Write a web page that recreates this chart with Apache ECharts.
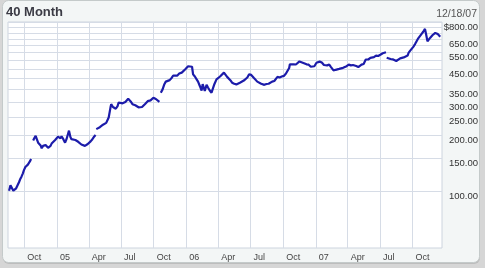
<!DOCTYPE html>
<html>
<head>
<meta charset="utf-8">
<script src="https://cdn.jsdelivr.net/npm/echarts@6/dist/echarts.min.js"></script>
<style>
html,body{margin:0;padding:0;background:#d6d6d6;}
#c{width:485px;height:268px;}
</style>
</head>
<body>
<div id="c"></div>
<script>
const dates = [
'2004-08-19','2004-08-23','2004-08-26','2004-08-31','2004-09-03','2004-09-08','2004-09-13','2004-09-16','2004-09-20','2004-09-23','2004-09-27','2004-09-30',
'2004-10-04','2004-10-07','2004-10-11','2004-10-14','2004-10-18','2004-10-20','2004-10-22','2004-10-26','2004-10-29',
'2004-11-02','2004-11-05','2004-11-09','2004-11-12','2004-11-16','2004-11-19','2004-11-23','2004-11-26','2004-11-30',
'2004-12-03','2004-12-07','2004-12-10','2004-12-14','2004-12-17','2004-12-21','2004-12-27','2004-12-30',
'2005-01-04','2005-01-07','2005-01-11','2005-01-14','2005-01-19','2005-01-24','2005-01-28',
'2005-02-02','2005-02-04','2005-02-08','2005-02-11','2005-02-16','2005-02-22','2005-02-25',
'2005-03-02','2005-03-07','2005-03-11','2005-03-16','2005-03-21','2005-03-24','2005-03-29',
'2005-04-01','2005-04-06','2005-04-11','2005-04-15','2005-04-20','2005-04-21','2005-04-22','2005-04-27',
'2005-05-02','2005-05-06','2005-05-11','2005-05-16','2005-05-20','2005-05-25','2005-05-27',
'2005-06-01','2005-06-03','2005-06-08','2005-06-13','2005-06-16','2005-06-21','2005-06-24','2005-06-29',
'2005-07-05','2005-07-08','2005-07-13','2005-07-18','2005-07-21','2005-07-25','2005-07-28',
'2005-08-02','2005-08-05','2005-08-10','2005-08-15','2005-08-19','2005-08-24','2005-08-29',
'2005-09-01','2005-09-06','2005-09-09','2005-09-14','2005-09-19','2005-09-22','2005-09-27','2005-09-30',
'2005-10-04','2005-10-07','2005-10-12','2005-10-17','2005-10-19','2005-10-21','2005-10-26','2005-10-31',
'2005-11-04','2005-11-09','2005-11-15','2005-11-21','2005-11-25','2005-11-30',
'2005-12-06','2005-12-12','2005-12-19','2005-12-23','2005-12-29',
'2006-01-03','2006-01-06','2006-01-11','2006-01-17','2006-01-20','2006-01-25','2006-01-30',
'2006-02-03','2006-02-08','2006-02-13','2006-02-16','2006-02-22','2006-02-27',
'2006-03-03','2006-03-08','2006-03-13','2006-03-17','2006-03-21','2006-03-27','2006-03-31',
'2006-04-06','2006-04-11','2006-04-17','2006-04-21','2006-04-26',
'2006-05-01','2006-05-05','2006-05-10','2006-05-16','2006-05-22','2006-05-26',
'2006-06-01','2006-06-06','2006-06-12','2006-06-16','2006-06-22','2006-06-27',
'2006-07-03','2006-07-10','2006-07-14','2006-07-20','2006-07-25','2006-07-31',
'2006-08-04','2006-08-09','2006-08-15','2006-08-21','2006-08-25','2006-08-31',
'2006-09-06','2006-09-11','2006-09-15','2006-09-21','2006-09-27',
'2006-10-03','2006-10-09','2006-10-13','2006-10-18','2006-10-20','2006-10-25','2006-10-31',
'2006-11-06','2006-11-10','2006-11-16','2006-11-21','2006-11-27',
'2006-12-01','2006-12-06','2006-12-12','2006-12-18','2006-12-21','2006-12-28',
'2007-01-03','2007-01-08','2007-01-12','2007-01-18','2007-01-24','2007-01-29',
'2007-02-02','2007-02-08','2007-02-13','2007-02-20','2007-02-26',
'2007-03-02','2007-03-08','2007-03-13','2007-03-19','2007-03-23','2007-03-29',
'2007-04-04','2007-04-10','2007-04-16','2007-04-20','2007-04-25',
'2007-05-01','2007-05-04','2007-05-10','2007-05-16','2007-05-22','2007-05-29',
'2007-06-04','2007-06-08','2007-06-14','2007-06-20','2007-06-26',
'2007-07-02','2007-07-09','2007-07-13','2007-07-18','2007-07-19','2007-07-20','2007-07-25','2007-07-31',
'2007-08-06','2007-08-10','2007-08-16','2007-08-21','2007-08-27','2007-08-31',
'2007-09-06','2007-09-11','2007-09-17','2007-09-20','2007-09-25','2007-09-28',
'2007-10-03','2007-10-08','2007-10-12','2007-10-17','2007-10-22','2007-10-26','2007-10-31',
'2007-11-05','2007-11-06','2007-11-08','2007-11-12','2007-11-14','2007-11-16','2007-11-20','2007-11-26','2007-11-30',
'2007-12-04','2007-12-07','2007-12-11','2007-12-14','2007-12-18'
];
const prices = [
101,108,106,101,99,104,106,112,117,120,125,130,
135,137,139,142,146,149,null,187,192,
198,191,182,184,176,170,175,179,177,
176,171,170,175,180,183,188,192,
196,193,192,197,190,182,190,
205,211,195,190,194,188,186,
184,181,178,177,175,176,179,
180,185,190,195,200,null,215,218,
220,224,227,229,232,236,248,
280,292,282,277,276,285,298,294,
295,296,300,305,312,305,302,
292,292,288,285,281,277,282,
287,292,298,303,308,306,312,316,
310,311,305,300,null,336,350,373,
385,388,392,404,415,421,
414,425,430,432,448,
457,465,472,462,421,410,396,
385,365,345,373,343,370,
358,345,336,340,373,396,395,
410,413,430,438,408,
404,392,380,375,372,376,
380,388,390,396,405,421,
418,404,395,385,380,375,
373,370,374,375,378,385,
388,395,408,405,410,
413,425,430,455,476,480,476,
475,485,493,500,484,
481,476,474,462,454,465,
485,496,492,487,472,466,
470,474,460,442,445,
448,450,446,456,460,465,
474,470,472,468,466,
460,465,474,478,505,505,
515,512,520,530,527,
535,545,548,552,null,516,510,508,
506,505,496,500,512,515,
518,521,530,549,565,575,
590,610,630,655,665,690,710,
735,740,690,632,625,640,660,680,674,
700,708,690,680,668
];
const xTickDates = ['2004-10-01','2005-01-01','2005-04-01','2005-07-01','2005-10-01','2006-01-01','2006-04-01','2006-07-01','2006-10-01','2007-01-01','2007-04-01','2007-07-01','2007-10-01'];
const xTickLabels = ['Oct','05','Apr','Jul','Oct','06','Apr','Jul','Oct','07','Apr','Jul','Oct'];
const yGridValues = [100,150,200,250,300,350,400,450,500,550,600,650,700,750,800];
const yLabelValues = [100,150,200,250,300,350,450,550,650,800];
const yLabelTexts = ['100.00','150.00','200.00','250.00','300.00','350.00','450.00','550.00','650.00','$800.00'];

function toTime(s){const p=s.split('-');return Date.UTC(+p[0],+p[1]-1,+p[2]);}
const xTickTimes = xTickDates.map(toTime);
const seriesData = dates.map((d,i)=>[toTime(d), prices[i]==null?'-':prices[i]]);

const chart = echarts.init(document.getElementById('c'), null, {renderer:'canvas'});
const font = '"Liberation Sans", Arial, sans-serif';
chart.setOption({
  backgroundColor:'#d6d6d6',
  animation:false,
  graphic:[
    {type:'rect', z:-10, shape:{x:3,y:2,width:477,height:262,r:6}, style:{fill:'#bdbdbd'}},
    {type:'rect', z:-9, shape:{x:2.5,y:0.5,width:477,height:262,r:6}, style:{fill:'#f3f6f6',stroke:'#c4caca',lineWidth:1}}
  ],
  title:[
    {text:'40 Month', left:6, top:6, padding:0, textStyle:{fontFamily:font, fontSize:13, fontWeight:'bold', color:'#3b3b45'}},
    {text:'12/18/07', right:8, top:9, padding:0, textStyle:{fontFamily:font, fontSize:10.5, fontWeight:'normal', color:'#555'}}
  ],
  grid:{left:8, top:22, width:434, height:226, show:true, backgroundColor:'#ffffff', borderColor:'#cdd4de', borderWidth:1, containLabel:false},
  xAxis:{
    type:'value',
    min:toTime('2004-08-16'), max:toTime('2007-12-23'),
    axisLine:{show:false},
    axisTick:{show:false, customValues:xTickTimes},
    splitLine:{show:true, lineStyle:{color:'#d6dce6', width:1}},
    axisLabel:{
      customValues:xTickTimes,
      align:'left', padding:[0,0,0,3], margin:5,
      fontFamily:font, fontSize:9, color:'#444',
      formatter:function(v){
        for(let i=0;i<xTickTimes.length;i++){ if(Math.abs(xTickTimes[i]-v)<86400000) return xTickLabels[i]; }
        return '';
      }
    }
  },
  yAxis:{
    type:'log', logBase:10, min:50, max:800, position:'right',
    axisLine:{show:false},
    axisTick:{show:false, customValues:yGridValues},
    splitLine:{show:true, lineStyle:{color:'#d6dce6', width:1}},
    axisLabel:{
      customValues:yLabelValues,
      align:'right', verticalAlign:'top', margin:36,
      fontFamily:font, fontSize:9.5, color:'#333',
      formatter:function(v){
        for(let i=0;i<yLabelValues.length;i++){ if(Math.abs(yLabelValues[i]-v)<0.5) return yLabelTexts[i]; }
        return '';
      }
    }
  },
  series:[{
    type:'line', data:seriesData, showSymbol:false, connectNulls:false,
    lineStyle:{color:'#1c1caa', width:2.2}
  }]
});
</script>
</body>
</html>
